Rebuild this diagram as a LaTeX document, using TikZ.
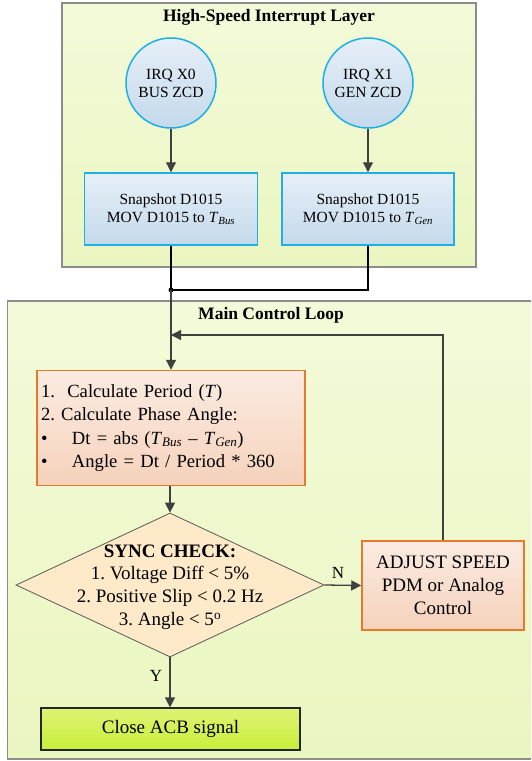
\documentclass[tikz,border=0pt]{standalone}
\usepackage{fontspec}
\setmainfont{Liberation Serif}
\usetikzlibrary{arrows.meta,shapes.geometric}
\frenchspacing

\definecolor{layerTop}{HTML}{F3FAD9}
\definecolor{layerBot}{HTML}{EAF6C0}
\definecolor{layerLine}{HTML}{8C8C8C}
\definecolor{blueTop}{HTML}{E6EFF8}
\definecolor{blueBot}{HTML}{C4D9EB}
\definecolor{blueLine}{HTML}{1CB0E6}
\definecolor{orTop}{HTML}{FBEBE2}
\definecolor{orBot}{HTML}{F5D2BB}
\definecolor{orLine}{HTML}{E57A2E}
\definecolor{dmFill}{HTML}{FEE9C8}
\definecolor{dmLine}{HTML}{5A5A5A}
\definecolor{okTop}{HTML}{DDF374}
\definecolor{okBot}{HTML}{C8EE3A}
\definecolor{arrowGray}{HTML}{404040}

\newcommand{\Tsub}[1]{\textit{T}\textsubscript{\textit{#1}}}

\begin{document}
\begin{tikzpicture}[x=1pt,y=-1pt,
  layer/.style={draw=layerLine,line width=1.2pt,top color=layerTop,bottom color=layerBot},
  title/.style={font=\fontsize{17.5}{20}\selectfont\bfseries},
  smalltext/.style={font=\fontsize{15.5}{18}\selectfont,align=center},
  bigtext/.style={font=\fontsize{19}{23}\selectfont},
  irq/.style={circle,smalltext,minimum size=90pt,inner sep=0pt,draw=blueLine,line width=1.5pt,
    top color=blueTop,bottom color=blueBot},
  snap/.style={rectangle,smalltext,minimum width=173pt,minimum height=72pt,inner sep=0pt,
    draw=blueLine,line width=1.5pt,top color=blueTop,bottom color=blueBot},
  calc/.style={rectangle,bigtext,draw=orLine,line width=1.5pt,top color=orTop,bottom color=orBot},
  check/.style={diamond,bigtext,draw=dmLine,line width=0.8pt,fill=dmFill,inner sep=0pt,
    minimum width=308pt,minimum height=144pt},
  done/.style={rectangle,bigtext,draw=black!85,line width=1.2pt,top color=okTop,bottom color=okBot,
    minimum width=259pt,minimum height=42pt,inner sep=0pt},
  flow/.style={draw=arrowGray,line width=1.3pt,-{Triangle[length=10pt,width=10pt]}},
  joinline/.style={draw=black,line width=1.3pt},
  tag/.style={font=\fontsize{17}{19}\selectfont}
]
\useasboundingbox (0,0) rectangle (531,761);
\clip (0,0) rectangle (531,761);

% two layers
\draw[layer] (62,3) rectangle (476,267);
\draw[layer] (7.5,301) rectangle (545,759);
\node[title] (titleA) at (269,17) {High-Speed Interrupt Layer};
\node[title] (titleB) at (271,315) {Main Control Loop};

% interrupt layer
\node[irq] (x0) at (171,83) {IRQ X0\\BUS ZCD};
\node[irq] (x1) at (368,83) {IRQ X1\\GEN ZCD};
\node[snap] (s0) at (171,209) {Snapshot D1015\\MOV D1015 to \Tsub{Bus}};
\node[snap,minimum width=172pt] (s1) at (368,209) {Snapshot D1015\\MOV D1015 to \Tsub{Gen}};
\draw[flow] (x0) -- (s0);
\draw[flow] (x1) -- (s1);

% merge of both snapshots
\coordinate (J) at (171,290);
\draw[joinline] (s0.south) -- (J);
\draw[joinline] (s1.south) |- (J);
\fill (J) circle (2.5pt);

% main loop
\node[calc,minimum width=268pt,minimum height=115pt,inner xsep=4pt,text width=260pt,align=left,
  font=\fontsize{18.6}{23.6}\selectfont]
  (calc) at (171,428)
  {1.\ \ Calculate Period (\textit{T})\\
   2. Calculate Phase Angle:\\
   \makebox[31pt][l]{•}Dt = abs (\Tsub{Bus} – \Tsub{Gen})\\
   \makebox[31pt][l]{•}Angle = Dt / Period * 360};
\node[check] (check) at (170,585)
  {\makebox[0pt][c]{\smash{\raisebox{-6pt}{\fontsize{19}{22.7}\selectfont\begin{tabular}{@{}c@{}}
   \textbf{SYNC CHECK:}\\
   1. Voltage Diff < 5\%\\
   2. Positive Slip < 0.2 Hz\\
   3. Angle < 5\textsuperscript{o}
   \end{tabular}}}}};
\node[calc,minimum width=162pt,minimum height=89pt,inner sep=0pt,align=center,
  font=\fontsize{19}{23}\selectfont] (adjust) at (443,585.5)
  {ADJUST SPEED\\PDM or Analog\\Control};
\node[done] (close) at (170.5,729) {Close ACB signal};

\coordinate (fb) at (171,335);
\draw[flow] (J) -- (calc.north);
\draw[flow] (calc.south -| check.north) -- (check.north);
\draw[flow] (check.east) -- (adjust.west);
\draw[flow] (adjust.north) |- (fb);
\draw[flow] (check.south) -- (close.north -| check.south);
\node[tag] (nTag) at (338,573) {N};
\node[tag] (yTag) at (156,676) {Y};
\end{tikzpicture}
\end{document}
